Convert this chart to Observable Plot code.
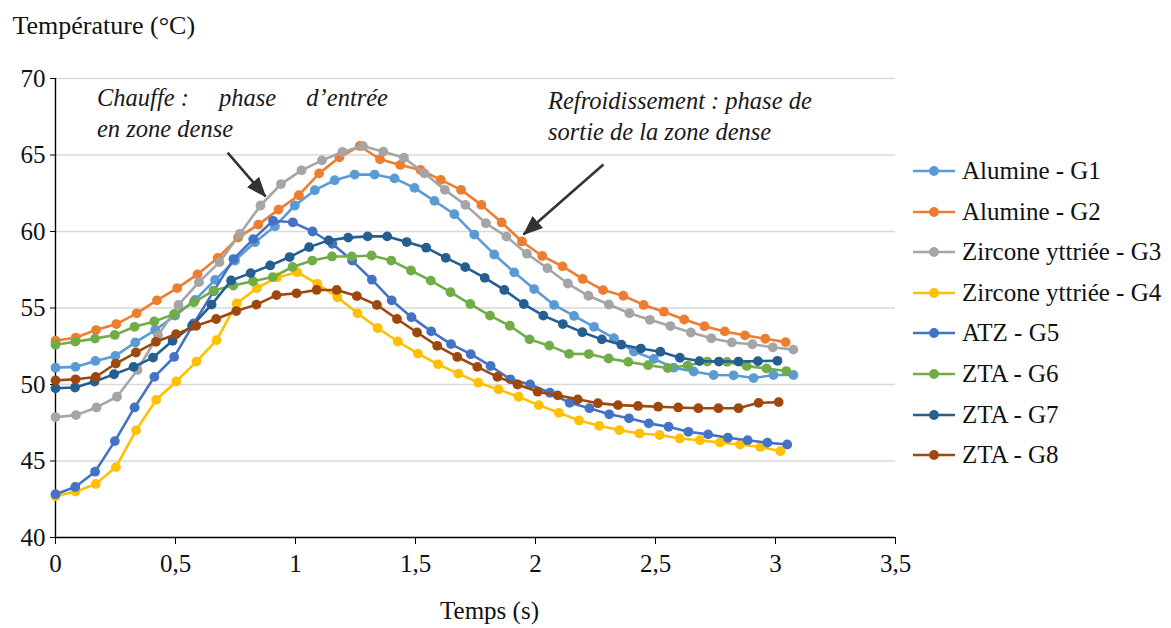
<!DOCTYPE html>
<html>
<head>
<meta charset="utf-8">
<script src="https://cdn.jsdelivr.net/npm/d3@7"></script>
<script src="https://cdn.jsdelivr.net/npm/@observablehq/plot@0.6"></script>
<style>
  body { margin: 0; background: #fff; }
  #wrap { position: relative; width: 1171px; height: 628px; font-family: "Liberation Serif", "Times New Roman", serif; color: #111; }
  .annot { position: absolute; font-style: italic; font-size: 24.5px; line-height: 30.6px; white-space: nowrap; color: #1a1a1a; }
  .just { text-align: justify; text-align-last: justify; white-space: normal; }
  .atom { display: inline-block; }
  .leg { position: absolute; left: 913px; height: 30px; display: flex; align-items: center; font-size: 25px; white-space: nowrap; }
  .leg svg { display: block; margin-right: 5px; }
</style>
</head>
<body>
<div id="wrap"></div>
<script>
// ---- Données ----
const series = ["Alumine - G1", "Alumine - G2", "Zircone yttriée - G3", "Zircone yttriée - G4",
                "ATZ - G5", "ZTA - G6", "ZTA - G7", "ZTA - G8"];
const couleurs = ["#5B9BD5", "#ED7D31", "#A5A5A5", "#FFC000", "#4472C4", "#70AD47", "#255E91", "#9E480E"];
// pas d'échantillonnage (s) de chaque série
const pas = [0.0831, 0.0845, 0.0854, 0.0839, 0.0824, 0.0823, 0.0813, 0.0837];

const g1 = [51.1, 51.15, 51.54, 51.87, 52.75, 53.56, 54.5, 55.53, 56.84, 58.1, 59.3, 60.34, 61.7, 62.7, 63.35, 63.72, 63.72, 63.47, 62.85, 62.0, 61.13, 59.8, 58.5, 57.33, 56.24, 55.2, 54.48, 53.77, 53.03, 52.15, 51.67, 51.1, 50.85, 50.62, 50.6, 50.42, 50.62, 50.62];
const g2 = [52.86, 53.07, 53.56, 53.95, 54.65, 55.5, 56.3, 57.2, 58.27, 59.6, 60.45, 61.43, 62.37, 63.8, 64.85, 65.59, 64.72, 64.35, 64.02, 63.37, 62.72, 61.74, 60.59, 59.35, 58.4, 57.72, 56.9, 56.17, 55.8, 55.2, 54.76, 54.25, 53.81, 53.47, 53.21, 52.99, 52.77];
const g3 = [47.87, 48.0, 48.5, 49.2, 50.95, 53.2, 55.2, 56.69, 58.0, 59.85, 61.7, 63.1, 64.0, 64.65, 65.2, 65.59, 65.22, 64.82, 63.8, 62.72, 61.74, 60.54, 59.67, 58.55, 57.6, 56.6, 55.8, 55.23, 54.66, 54.23, 53.82, 53.4, 53.02, 52.75, 52.63, 52.43, 52.28];
const g4 = [42.7, 43.0, 43.5, 44.6, 47.0, 49.0, 50.2, 51.5, 52.9, 55.3, 56.3, 57.0, 57.34, 56.58, 55.7, 54.65, 53.69, 52.81, 52.02, 51.32, 50.71, 50.12, 49.68, 49.2, 48.65, 48.15, 47.65, 47.3, 47.02, 46.8, 46.7, 46.47, 46.36, 46.2, 46.08, 45.92, 45.64];
const g5 = [42.83, 43.3, 44.3, 46.3, 48.5, 50.5, 51.8, 54.0, 56.1, 58.2, 59.5, 60.7, 60.6, 60.0, 59.2, 58.1, 56.85, 55.5, 54.4, 53.47, 52.64, 51.98, 51.21, 50.34, 50.0, 49.46, 48.8, 48.45, 48.05, 47.79, 47.46, 47.24, 46.91, 46.74, 46.52, 46.36, 46.2, 46.08];
const g6 = [52.6, 52.8, 53.0, 53.24, 53.77, 54.12, 54.6, 55.37, 56.14, 56.47, 56.75, 57.02, 57.68, 58.1, 58.37, 58.37, 58.43, 58.1, 57.45, 56.79, 56.03, 55.26, 54.5, 53.84, 52.95, 52.54, 52.0, 51.99, 51.7, 51.48, 51.26, 51.08, 51.24, 51.5, 51.48, 51.2, 51.05, 50.88];
const g7 = [49.75, 49.8, 50.19, 50.67, 51.15, 51.76, 52.86, 53.84, 55.22, 56.8, 57.28, 57.78, 58.33, 58.98, 59.42, 59.6, 59.68, 59.68, 59.31, 58.94, 58.28, 57.67, 56.97, 56.18, 55.26, 54.5, 53.95, 53.42, 52.95, 52.6, 52.35, 52.14, 51.75, 51.53, 51.5, 51.5, 51.53, 51.55];
const g8 = [50.27, 50.34, 50.49, 51.37, 52.09, 52.79, 53.29, 53.84, 54.28, 54.8, 55.22, 55.84, 55.96, 56.18, 56.18, 55.78, 55.2, 54.28, 53.4, 52.53, 51.8, 51.15, 50.5, 50.0, 49.53, 49.29, 49.03, 48.78, 48.65, 48.6, 48.55, 48.5, 48.45, 48.45, 48.45, 48.8, 48.85];
const valeurs = [g1, g2, g3, g4, g5, g6, g7, g8];

const ticksX = [0, 0.5, 1, 1.5, 2, 2.5, 3, 3.5];
const ticksY = [40, 45, 50, 55, 60, 65, 70];
const grille = [45, 50, 55, 60, 65, 70];

const fleches = [
  {x1: 0.717, y1: 65.16, x2: 0.875, y2: 62.29},
  {x1: 2.283, y1: 64.38, x2: 1.95, y2: 59.8}
];

// ---- Construction ----
const tables = valeurs.map((vals, k) => vals.map((v, i) => ({serie: series[k], t: i * pas[k], T: v})));

const marques = [
  Plot.gridY(grille, {stroke: "#d9d9d9", strokeOpacity: 1, strokeWidth: 1.4}),
  Plot.ruleX([0], {stroke: "#000", strokeWidth: 1.4}),
  Plot.ruleY([40], {stroke: "#000", strokeWidth: 1.4}),
  Plot.axisY({ticks: ticksY, tickSize: 5, tickPadding: 5, tickFormat: d => String(d), label: null, stroke: "#000"}),
  Plot.axisX({ticks: ticksX, tickSize: 7, tickPadding: 10, tickFormat: d => String(d).replace(".", ","), label: null, stroke: "#000"})
];
tables.forEach((tab, k) => {
  marques.push(Plot.line(tab, {x: "t", y: "T", stroke: couleurs[k], strokeWidth: 2.6}));
  marques.push(Plot.dot(tab, {x: "t", y: "T", fill: couleurs[k], r: 4.9, stroke: "none"}));
});
marques.push(Plot.link(fleches, {x1: "x1", y1: "y1", x2: "x2", y2: "y2", stroke: "#333", strokeWidth: 2.6}));
marques.push(Plot.text(["Temps (s)"], {frameAnchor: "bottom", lineAnchor: "middle", dx: 14, dy: 73, fontSize: 25, fill: "#111"}));
marques.push(Plot.text(["Température (°C)"], {frameAnchor: "top-left", lineAnchor: "middle", dx: -43, dy: -53, textAnchor: "start", fontSize: 26, fill: "#111"}));

const chart = Plot.plot({
  width: 1171,
  height: 628,
  marginLeft: 55,
  marginRight: 276,
  marginTop: 78,
  marginBottom: 91,
  x: {domain: [0, 3.5], axis: null},
  y: {domain: [40, 70], axis: null},
  style: {fontFamily: "'Liberation Serif', 'Times New Roman', serif", fontSize: "25px", color: "#111", background: "#fff"},
  marks: marques
});

// pointes de flèches pleines
const ns = "http://www.w3.org/2000/svg";
const defs = document.createElementNS(ns, "defs");
const marker = document.createElementNS(ns, "marker");
marker.setAttribute("id", "pointe");
marker.setAttribute("markerUnits", "userSpaceOnUse");
marker.setAttribute("markerWidth", "20");
marker.setAttribute("markerHeight", "16");
marker.setAttribute("refX", "19");
marker.setAttribute("refY", "8");
marker.setAttribute("orient", "auto");
const tri = document.createElementNS(ns, "path");
tri.setAttribute("d", "M0,0 L20,8 L0,16 Z");
tri.setAttribute("fill", "#333");
marker.appendChild(tri);
defs.appendChild(marker);
chart.insertBefore(defs, chart.firstChild);
chart.querySelectorAll('g[aria-label="link"] path').forEach(p => p.setAttribute("marker-end", "url(#pointe)"));

const wrap = document.getElementById("wrap");
wrap.appendChild(chart);

// annotations
const a1 = document.createElement("div");
a1.className = "annot";
a1.style.left = "97px"; a1.style.top = "83px";
a1.innerHTML = '<div class="just" style="width:291px"><span class="atom">Chauffe :</span> phase d’entrée</div><div>en zone dense</div>';
wrap.appendChild(a1);
const a2 = document.createElement("div");
a2.className = "annot";
a2.style.left = "548px"; a2.style.top = "86px";
a2.innerHTML = '<div>Refroidissement : phase de</div><div>sortie de la zone dense</div>';
wrap.appendChild(a2);

// légende
series.forEach((s, k) => {
  const row = document.createElement("div");
  row.className = "leg";
  row.style.top = (171 + 40.6 * k - 15) + "px";
  row.innerHTML = `<svg width="44" height="30"><line x1="0" x2="42" y1="15" y2="15" stroke="${couleurs[k]}" stroke-width="2.6"/><circle cx="21" cy="15" r="4.9" fill="${couleurs[k]}"/></svg><span>${s}</span>`;
  wrap.appendChild(row);
});
</script>
</body>
</html>
